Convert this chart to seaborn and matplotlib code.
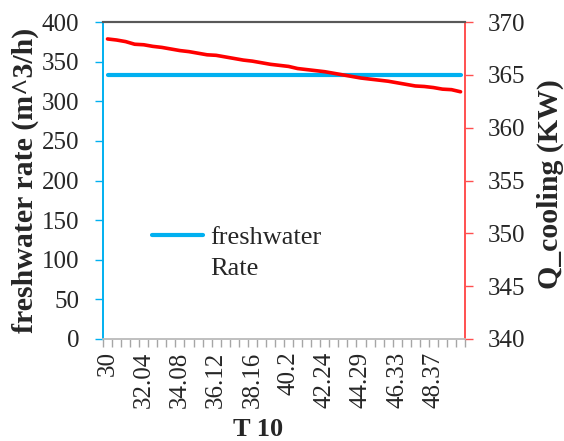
import matplotlib
matplotlib.use("Agg")
import matplotlib.pyplot as plt
import seaborn as sns
import pandas as pd
import numpy as np

t10_labels = ["30", "30.51", "31.02", "31.53", "32.04", "32.55", "33.06", "33.57",
              "34.08", "34.59", "35.1", "35.61", "36.12", "36.63", "37.14", "37.65",
              "38.16", "38.67", "39.18", "39.69", "40.2", "40.71", "41.22", "41.73",
              "42.24", "42.76", "43.27", "43.78", "44.29", "44.8", "45.31", "45.82",
              "46.33", "46.84", "47.35", "47.86", "48.37", "48.88", "49.39", "49.9"]
freshwater = [333] * 40
q_cooling = [368.4, 368.3, 368.15, 367.9, 367.85, 367.7, 367.6, 367.45, 367.3, 367.2,
             367.05, 366.9, 366.85, 366.7, 366.55, 366.4, 366.3, 366.15, 366.0, 365.9,
             365.8, 365.6, 365.5, 365.4, 365.3, 365.15, 365.0, 364.85, 364.7, 364.6,
             364.5, 364.4, 364.25, 364.1, 363.95, 363.9, 363.8, 363.65, 363.6, 363.4]

sns.set_theme(style="white")
plt.rcParams['font.family'] = ['Liberation Serif', 'DejaVu Serif']

df = pd.DataFrame({"idx": np.arange(len(t10_labels)), "fw": freshwater, "q": q_cooling})

fig = plt.figure(figsize=(5.64, 4.41), dpi=100)
ax = fig.add_axes([0.1826, 0.2313, 0.642, 0.7187])
ax2 = ax.twinx()

blue = "#00B0F0"
red = "#FF0000"

sns.lineplot(data=df, x="idx", y="fw", ax=ax, color=blue, linewidth=3.0, label="freshwater")
sns.lineplot(data=df, x="idx", y="q", ax=ax2, color=red, linewidth=2.6, legend=False)

ax.set_xlim(-0.5, len(t10_labels) - 0.5)
ax.set_ylim(0, 400)
ax2.set_ylim(340, 370)
ax.set_yticks(np.arange(0, 401, 50))
ax2.set_yticks(np.arange(340, 371, 5))

major = np.arange(0, len(t10_labels), 4)
ax.set_xticks(major)
ax.set_xticklabels([t10_labels[i] for i in major], rotation=90, va="top", ha="center")
ax.set_xticks(np.arange(-0.5, len(t10_labels), 1), minor=True)
ax.tick_params(axis="x", which="major", length=0, pad=9, labelsize=18)
ax.tick_params(axis="x", which="minor", length=6, width=1, color="#A6A6A6", direction="out", bottom=True)

ax.tick_params(axis="y", which="major", length=6, width=1, color=blue, direction="out", left=True, labelsize=18, pad=11)
ax2.tick_params(axis="y", which="major", length=6, width=1, color="#FF5050", direction="out", right=True, labelsize=18, pad=10)

for a in (ax, ax2):
    a.spines["left"].set_color(blue)
    a.spines["right"].set_color("#FF5050")
    a.spines["top"].set_color("#595959")
    a.spines["bottom"].set_color("#BFBFBF")
    for s in a.spines.values():
        s.set_linewidth(1.2)
    a.spines["top"].set_linewidth(1.5)

ax.set_xlabel("T 10", fontsize=19, fontweight="bold")
ax.set_ylabel("freshwater rate (m^3/h)", fontsize=21.5, fontweight="bold")
ax2.set_ylabel("Q_cooling (KW)", fontsize=21.5, fontweight="bold")
ax.xaxis.set_label_coords(0.428, -0.25)
ax.yaxis.set_label_coords(-0.178, 0.5)
ax2.yaxis.set_label_coords(1.197, 0.49)
ax.grid(False)
ax2.grid(False)

leg = ax.legend(loc="center left", bbox_to_anchor=(0.135, 0.32), frameon=False,
                fontsize=19, handlelength=1.93, handletextpad=0.27, borderaxespad=0,
                borderpad=0)
ax.text(0.295, 0.22, "Rate", transform=ax.transAxes, fontsize=19, va="center", ha="left")

fig.savefig("out.png", dpi=100)
